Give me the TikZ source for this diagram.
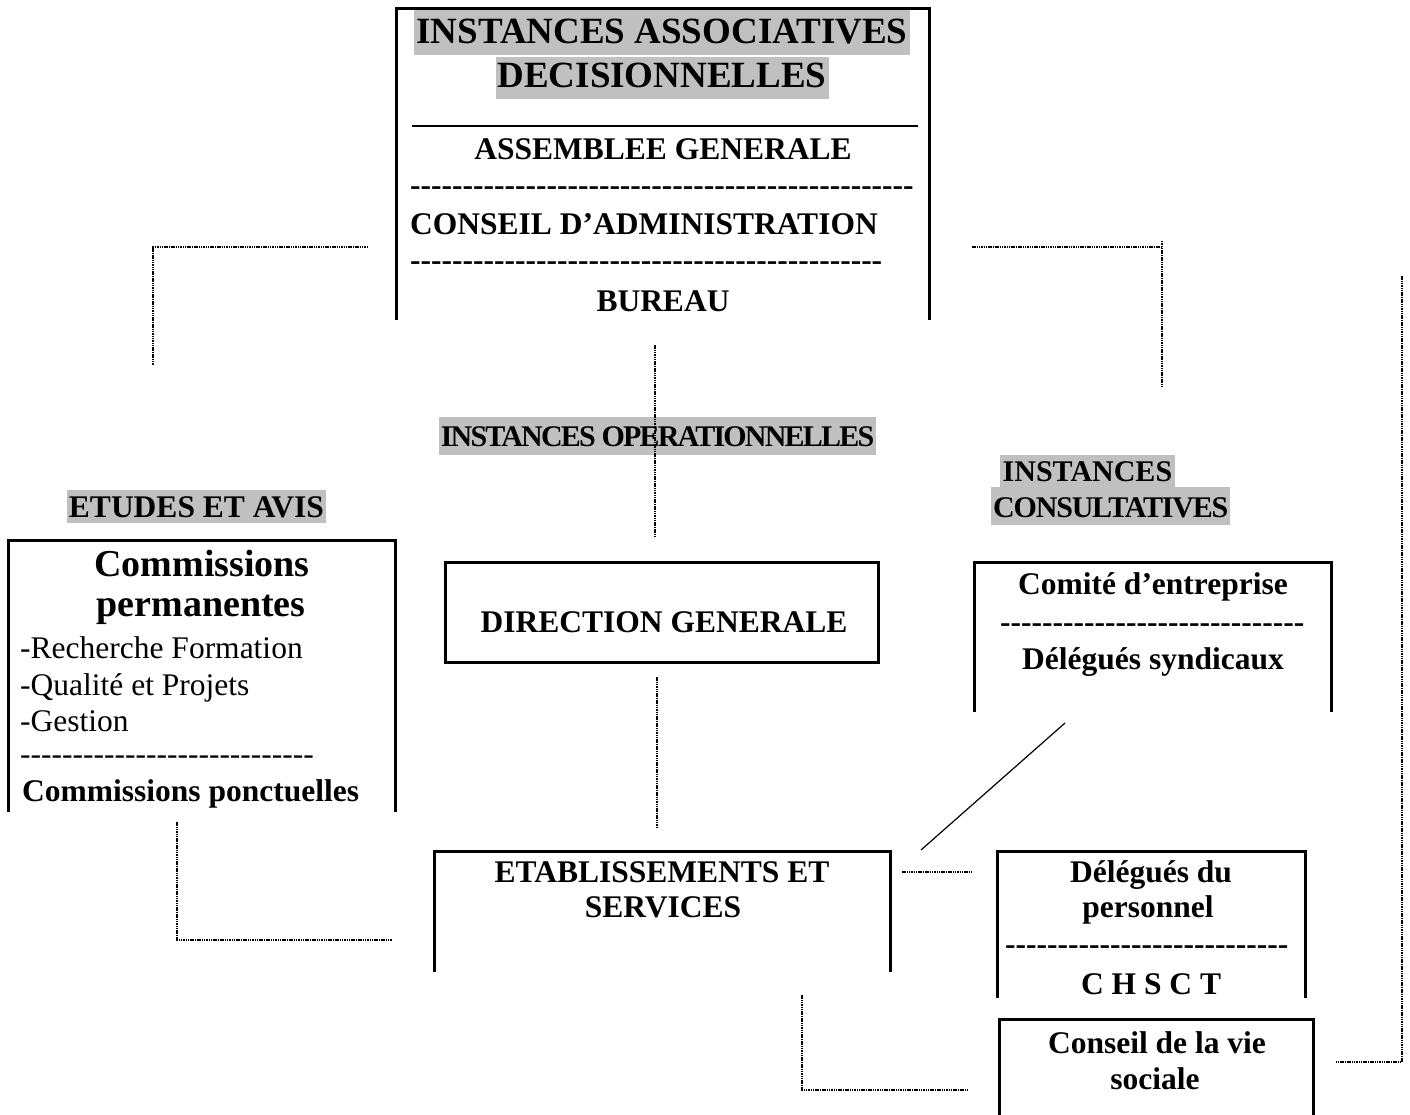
\documentclass[tikz,border=0pt]{standalone}
\usepackage{fontspec}
\setmainfont{Liberation Serif}
\newcommand\tsz[1]{\fontsize{#1}{#1}\selectfont}
\newcommand\hyrow[1]{\foreach\k in {1,...,#1}{-\kern0pt}}
\newcommand\tight[2][-6]{{\addfontfeature{LetterSpace=#1}#2}}
\definecolor{hl}{HTML}{C0C0C0}

\tikzset{
  frame/.style={line width=3pt},
  link/.style={line width=2pt, dash pattern=on 1.5pt off 0.8pt},
  thinlink/.style={line width=1.2pt},
  area/.style={draw=none, inner sep=0pt},
  txt/.style={inner sep=0pt, anchor=base, font=\bfseries\tsz{31.5}},
  txtl/.style={txt, anchor=base west},
  plain/.style={inner sep=0pt, anchor=base west, font=\tsz{31.5}},
  shade/.style={fill=hl, inner xsep=2pt, inner ysep=0pt, anchor=base}
}

\begin{document}
\begin{tikzpicture}[x=1pt, y=-1pt]
\useasboundingbox[fill=white] (0,0) rectangle (1410,1115);

% ---------- box areas ----------
\node[area, minimum width=532, minimum height=311] (decision) at (663,164.5) {};
\node[area, minimum width=386, minimum height=271] (commissions) at (202,676.5) {};
\node[area, minimum width=432, minimum height=99] (direction) at (662,612.5) {};
\node[area, minimum width=356, minimum height=149] (comite) at (1153,637.5) {};
\node[area, minimum width=455, minimum height=120] (etab) at (662.5,912) {};
\node[area, minimum width=307, minimum height=146] (delegues) at (1151.5,925) {};
\node[area, minimum width=313, minimum height=97] (cvs) at (1156.5,1068.5) {};

% ---------- box outlines (open at the bottom except the general direction) ----------
\draw[frame] (decision.south west) |- (decision.north east) -- (decision.south east);
\draw[frame] (commissions.south west) |- (commissions.north east) -- (commissions.south east);
\draw[frame] (direction.south west) rectangle (direction.north east);
\draw[frame] (comite.south west) |- (comite.north east) -- (comite.south east);
\draw[frame] (etab.south west) |- (etab.north east) -- (etab.south east);
\draw[frame] (delegues.south west) |- (delegues.north east) -- (delegues.south east);
\draw[frame] (cvs.south west) |- (cvs.north east) -- (cvs.south east);

% ---------- decision-making bodies ----------
\node[shade, font=\bfseries\tsz{37}, text height=34pt, text depth=11pt] (t1) at (662,44) {INSTANCES ASSOCIATIVES};
\node[shade, font=\bfseries\tsz{37}, text height=31pt, text depth=11pt] (t2) at (662,88) {DECISIONNELLES};
\coordinate (ruleL) at (412,126);
\coordinate (ruleR) at (918,126);
\draw[line width=1.3pt] (ruleL) -- (ruleR);
\node[txt] (ag) at (663,160) {ASSEMBLEE GENERALE};
\node[txtl] (d1) at (410,196) {\hyrow{48}};
\node[txtl] (ca) at (410,235) {CONSEIL D’ADMINISTRATION};
\node[txtl] (d2) at (410,271) {\hyrow{45}};
\node[txt] (bu) at (663,311) {BUREAU};

% ---------- section headings ----------
\node[shade, font=\bfseries\tsz{30}, text height=29pt, text depth=9pt] (ops) at (657.5,446) {\tight{INSTANCES OPERATIONNELLES}};
\node[shade, font=\bfseries\tsz{31.5}, text height=27pt, text depth=6pt] (etudes) at (196.5,517) {ETUDES ET AVIS};
\node[shade, anchor=base west, inner xsep=2.5pt, font=\bfseries\tsz{30}, text height=26pt, text depth=6pt] (ic1) at (1000,481) {INSTANCES};
\node[shade, anchor=base west, font=\bfseries\tsz{30}, text height=30pt, text depth=8pt] (ic2) at (991,517) {\tight[-4]{CONSULTATIVES}};

% ---------- commissions ----------
\node[txt, font=\bfseries\tsz{38}] (cp1) at (202,576) {Commissions};
\node[txt, font=\bfseries\tsz{38}] (cp2) at (201,616) {permanentes};
\node[plain] (r1) at (20,658) {-Recherche Formation};
\node[plain] (r2) at (20,695) {-Qualité et Projets};
\node[plain] (r3) at (20,731) {-Gestion};
\node[plain] (r4) at (20,764) {\hyrow{28}};
\node[txtl] (cpo) at (22,801) {Commissions ponctuelles};

% ---------- direction ----------
\node[txt] (dg) at (664,632) {DIRECTION GENERALE};

% ---------- consultative bodies ----------
\node[txt] (ce) at (1153,594) {Comité d’entreprise};
\node[txtl] (d3) at (1000,632) {\hyrow{29}};
\node[txt] (ds) at (1153,669) {Délégués syndicaux};

\node[txt] (es1) at (662,882) {ETABLISSEMENTS ET};
\node[txt] (es2) at (663,917) {SERVICES};

\node[txt] (dp1) at (1151,882) {Délégués du};
\node[txt] (dp2) at (1148,917) {personnel};
\node[txtl] (d4) at (1005,954) {\hyrow{27}};
\node[txt] (ch) at (1151,994) {C H S C T};

\node[txt] (cv1) at (1157,1053) {Conseil de la vie};
\node[txt] (cv2) at (1155,1089) {sociale};

% ---------- connectors ----------
\coordinate (aL) at (368,247);  \coordinate (aLe) at (153,365);
\draw[link] (aL) -| (aLe);
\coordinate (aR) at (972,247);  \coordinate (aRe) at (1162,386); \coordinate (aRt) at (1162,241);
\draw[link] (aR) -- (aR -| aRe);
\draw[link] (aRt) -- (aRe);
\coordinate (m1) at (655,345);  \coordinate (m2) at (655,537);
\draw[link] (m1) -- (m2);
\coordinate (m3) at (657,677);  \coordinate (m4) at (657,827);
\draw[link] (m3) -- (m4);
\coordinate (bL) at (177,822);  \coordinate (bLe) at (392,940);
\draw[link] (bL) |- (bLe);
\coordinate (s1) at (902,872);  \coordinate (s2) at (972,872);
\draw[link] (s1) -- (s2);
\coordinate (g1) at (1065,723); \coordinate (g2) at (921,850);
\draw[thinlink] (g1) -- (g2);
\coordinate (c1) at (802,995);  \coordinate (c2) at (968,1090);
\draw[link] (c1) |- (c2);
\coordinate (f1) at (1402,276); \coordinate (f2) at (1335,1062);
\draw[link] (f1) |- (f2);
\end{tikzpicture}
\end{document}
